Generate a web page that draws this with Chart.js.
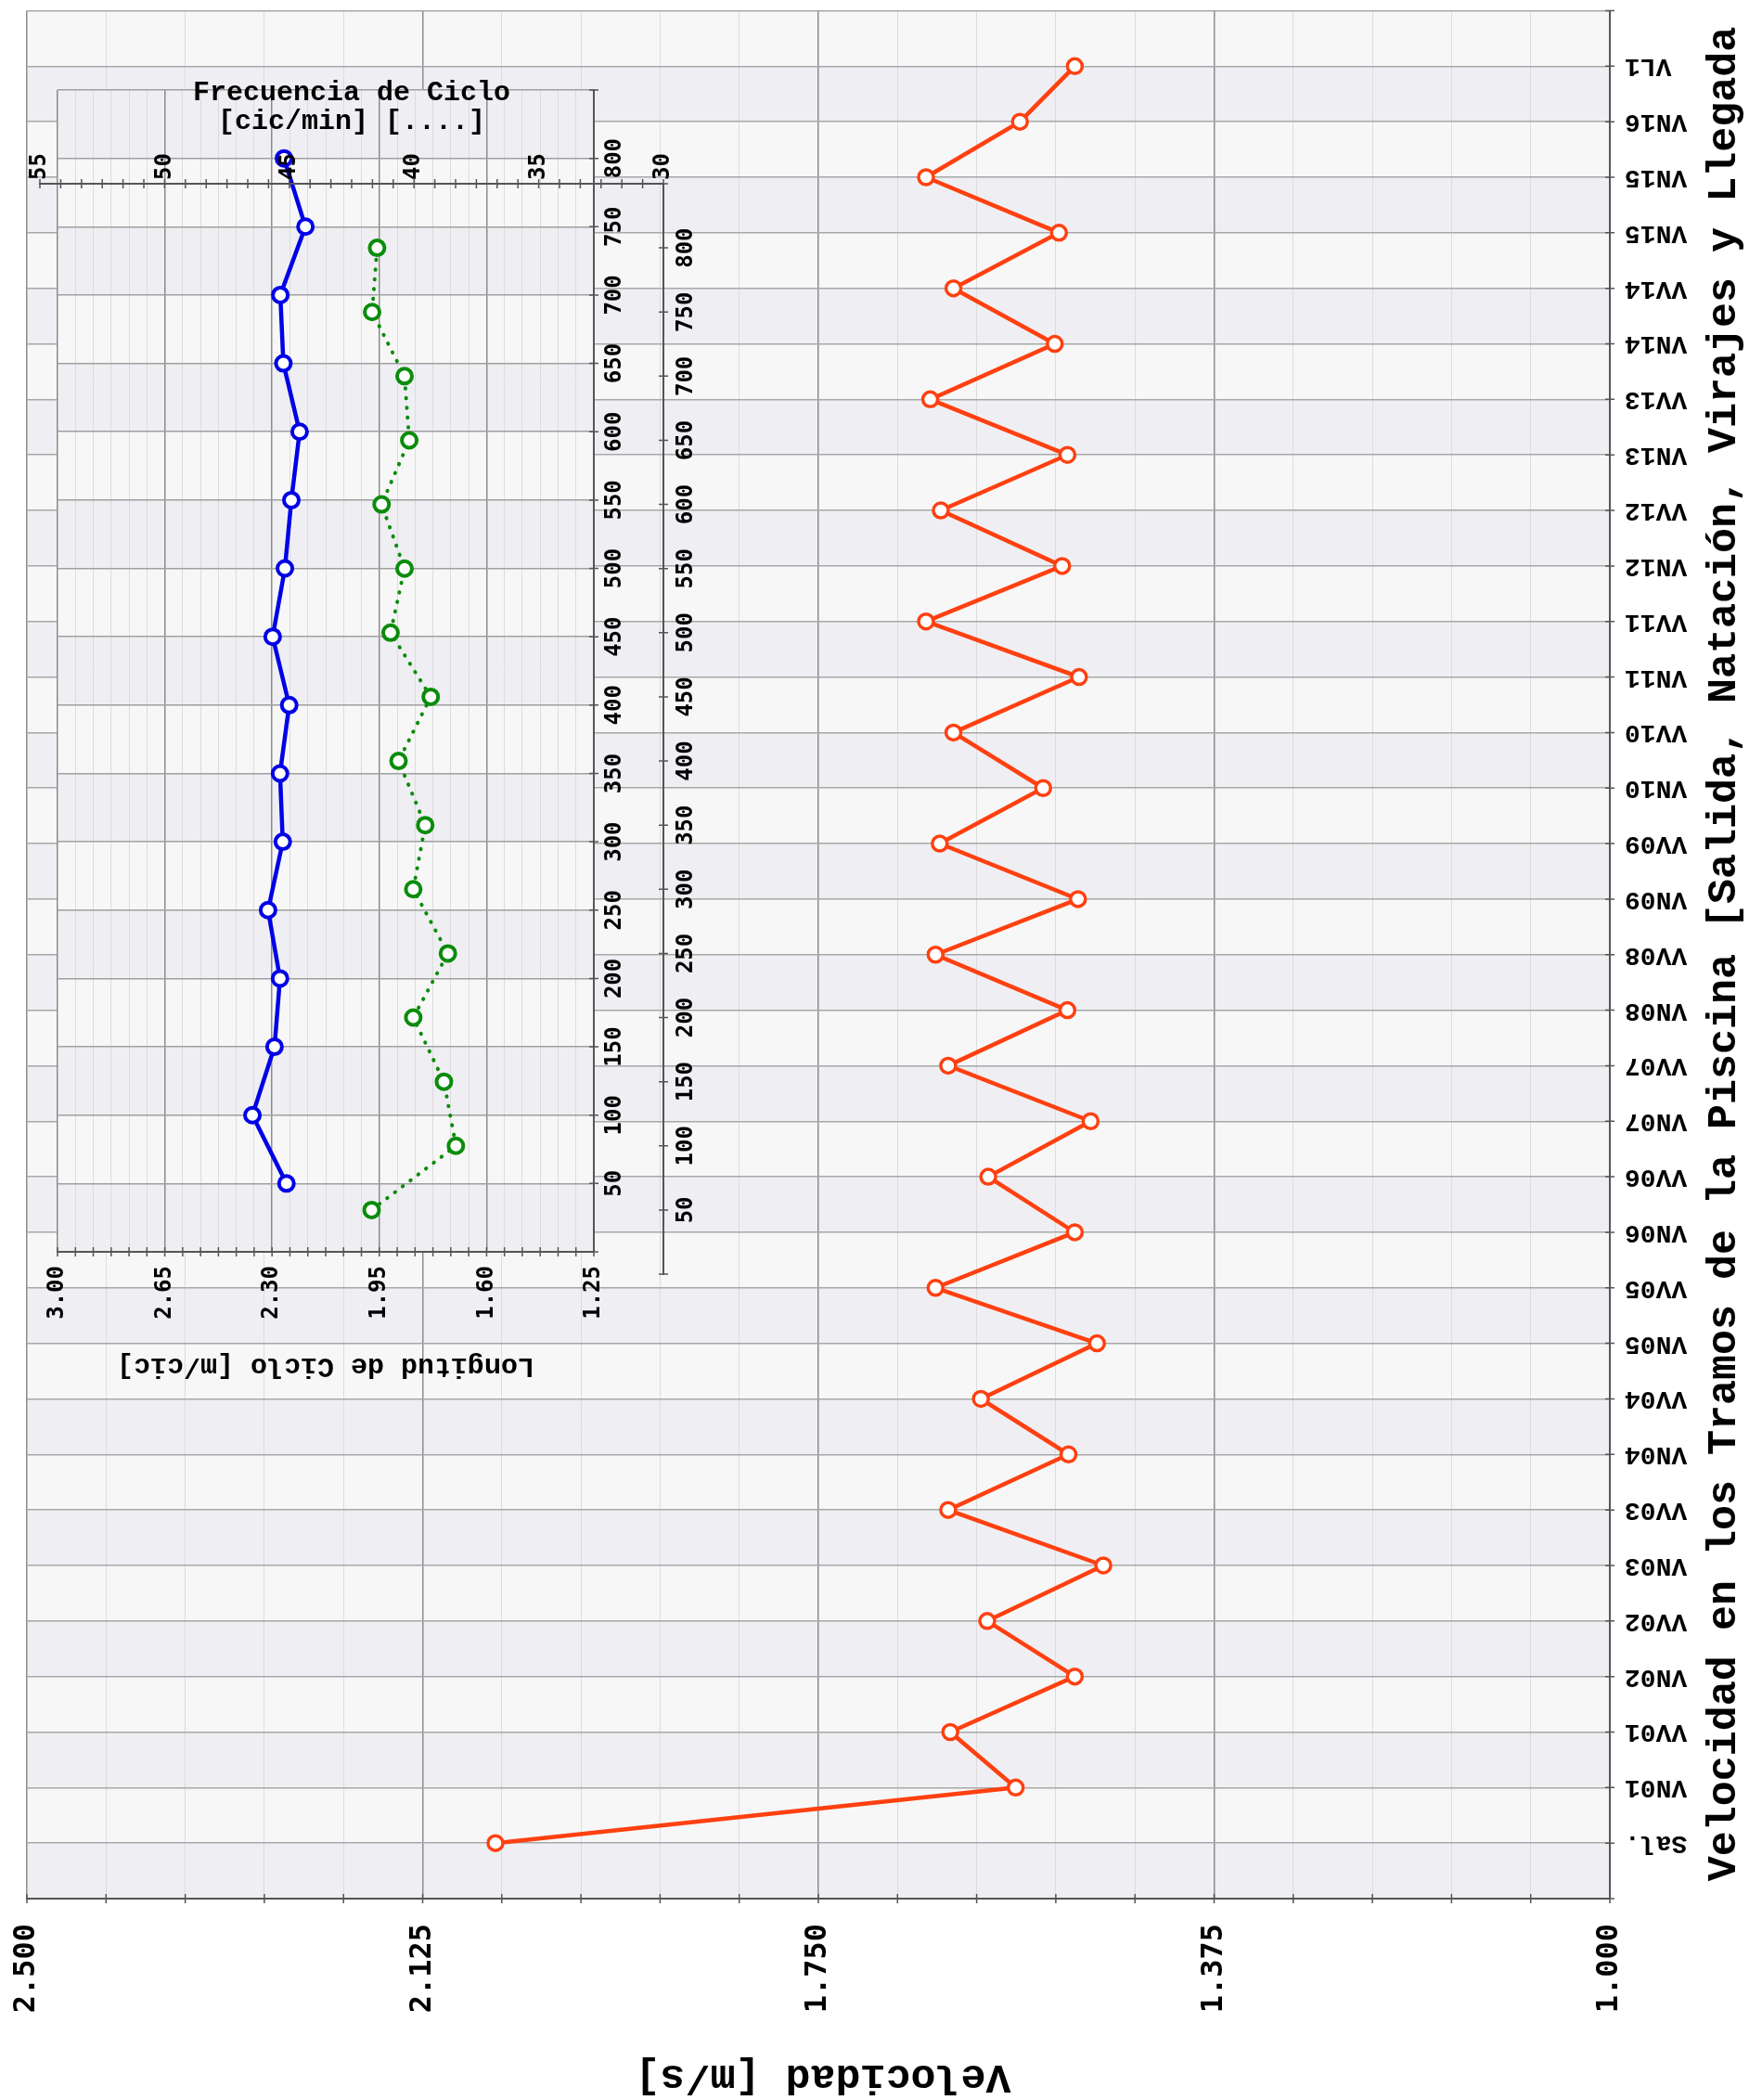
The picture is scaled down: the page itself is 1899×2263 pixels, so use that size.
<!DOCTYPE html>
<html>
<head>
<meta charset="utf-8">
<script src="https://cdn.jsdelivr.net/npm/chart.js@4.4.1/dist/chart.umd.min.js"></script>
<style>
    html, body { margin: 0; padding: 0; background: #fff; }
    #wrap { position: relative; width: 1899px; height: 2263px; }
    #wrap canvas { position: absolute; left: 0; top: 0; }
</style>
</head>
<body>
<div id="wrap">
    <canvas id="mainChart" width="1899" height="2263"></canvas>
    <canvas id="lengthChart" width="800" height="1550"></canvas>
    <canvas id="freqChart" width="800" height="1550"></canvas>
</div>
<script>
// tramos de la piscina (eje de categorias, de abajo hacia arriba)
const tramos = ['Sal.', 'VN01', 'VV01', 'VN02', 'VV02', 'VN03', 'VV03', 'VN04', 'VV04',
    'VN05', 'VV05', 'VN06', 'VV06', 'VN07', 'VV07', 'VN08', 'VV08', 'VN09', 'VV09',
    'VN10', 'VV10', 'VN11', 'VV11', 'VN12', 'VV12', 'VN13', 'VV13', 'VN14', 'VV14',
    'VN15', 'VN15', 'VN16', 'VL1'];
const velocidad = [2.056, 1.563, 1.625, 1.507, 1.590, 1.480, 1.627, 1.513, 1.596,
    1.486, 1.639, 1.507, 1.589, 1.492, 1.627, 1.514, 1.639, 1.504, 1.635,
    1.537, 1.622, 1.503, 1.648, 1.519, 1.634, 1.514, 1.644, 1.526, 1.622,
    1.522, 1.648, 1.559, 1.507];
const velocidadTicks = [2.500, 2.125, 1.750, 1.375, 1.000];

// grafico interior: distancia [m]
const distancias = [50, 100, 150, 200, 250, 300, 350, 400, 450, 500, 550, 600, 650, 700, 750, 800];
const longitudCiclo = [2.253, 2.364, 2.292, 2.274, 2.313, 2.265, 2.274, 2.244,
    2.298, 2.258, 2.237, 2.210, 2.263, 2.273, 2.191, 2.261];
const frecuenciaCiclo = [41.70, 38.32, 38.80, 40.03, 38.64, 40.03, 39.55, 40.62,
    39.33, 40.94, 40.38, 41.30, 40.19, 40.38, 41.68, 41.48];
const longitudTicks = [3.00, 2.65, 2.30, 1.95, 1.60, 1.25];
const frecuenciaTicks = [55, 50, 45, 40, 35, 30];
const distanciaTicks = distancias;

const titulo = 'Velocidad en los Tramos de la Piscina [Salida, Natación, Virajes y Llegada';
const tituloX = 'Velocidad [m/s]';

const LIGHT = '#f7f7f7';
const BLUISH = '#efeff3';
const MAJOR = '#8c8c8c';
const MINOR = '#dcdcdc';
const AXIS = '#555';

function steps(min, max, n) {
    const out = [];
    for (let i = 0; i <= n; i++) out.push({ value: min + (max - min) * i / n });
    return out;
}

// texto girado, se lee de abajo hacia arriba
function rotText(ctx, text, x, y, align) {
    ctx.save();
    ctx.translate(x, y);
    ctx.rotate(-Math.PI / 2);
    ctx.textAlign = align;
    ctx.textBaseline = 'middle';
    ctx.fillText(text, 0, 0);
    ctx.restore();
}

// texto cabeza abajo (girado 180)
function upsideText(ctx, text, x, y, align) {
    ctx.save();
    ctx.translate(x, y);
    ctx.rotate(Math.PI);
    ctx.textAlign = align;
    ctx.textBaseline = 'middle';
    ctx.fillText(text, 0, 0);
    ctx.restore();
}

function tickMarks(ctx, scale, horizontal, at, half) {
    ctx.save();
    ctx.strokeStyle = AXIS;
    ctx.lineWidth = 1.5;
    ctx.beginPath();
    scale.ticks.forEach(t => {
        const p = scale.getPixelForValue(t.value);
        if (horizontal) {
            ctx.moveTo(p, at - half);
            ctx.lineTo(p, at + half);
        } else {
            ctx.moveTo(at - half, p);
            ctx.lineTo(at + half, p);
        }
    });
    ctx.stroke();
    ctx.restore();
}

function bands(scaleId) {
    return {
        id: 'bands',
        beforeDraw(chart) {
            const { ctx, chartArea: a } = chart;
            const s = chart.scales[scaleId];
            ctx.save();
            for (let i = 0; i < s.ticks.length - 1; i++) {
                const y0 = s.getPixelForValue(s.ticks[i].value);
                const y1 = s.getPixelForValue(s.ticks[i + 1].value);
                ctx.fillStyle = i % 2 === 0 ? BLUISH : LIGHT;
                ctx.fillRect(a.left, Math.min(y0, y1), a.right - a.left, Math.abs(y1 - y0));
            }
            ctx.restore();
        }
    };
}

const baseOptions = {
    responsive: false,
    animation: false,
    events: [],
    plugins: { legend: { display: false }, tooltip: { enabled: false } }
};

// ---- grafico principal ----
new Chart(document.getElementById('mainChart'), {
    type: 'line',
    data: {
        datasets: [{
            data: velocidad.map((v, i) => ({ x: v, y: i })),
            borderColor: '#ff4010',
            borderWidth: 4.5,
            pointRadius: 8,
            pointBorderWidth: 3.5,
            pointBorderColor: '#ff4010',
            pointBackgroundColor: '#fff',
            tension: 0
        }]
    },
    options: {
        ...baseOptions,
        layout: { padding: { left: 29, right: 164, top: 7, bottom: 217 } },
        scales: {
            x: {
                type: 'linear', min: 1.0, max: 2.5, reverse: true, position: 'bottom',
                afterBuildTicks: s => { s.ticks = steps(1.0, 2.5, 20); },
                ticks: { display: false },
                grid: {
                    drawTicks: false,
                    color: c => c.index % 5 === 0 ? MAJOR : MINOR,
                    lineWidth: c => c.index % 5 === 0 ? 1.5 : 1
                },
                border: { color: AXIS, width: 2 }
            },
            y: {
                type: 'linear', min: -1, max: tramos.length, position: 'right',
                afterBuildTicks: s => { s.ticks = steps(-1, tramos.length, tramos.length + 1); },
                ticks: { display: false },
                grid: { drawTicks: false, color: '#a8a8a8', lineWidth: 1.5 },
                border: { color: AXIS, width: 2 }
            }
        }
    },
    plugins: [bands('y'), {
        id: 'mainText',
        afterDraw(chart) {
            const { ctx, chartArea: a } = chart;
            const x = chart.scales.x, y = chart.scales.y;
            tickMarks(ctx, x, true, a.bottom, 5);
            tickMarks(ctx, y, false, a.right, 5);
            ctx.fillStyle = '#000';
            ctx.font = 'bold 28px "Liberation Mono"';
            tramos.forEach((t, i) => upsideText(ctx, t, a.right + 16, y.getPixelForValue(i), 'right'));
            ctx.font = 'bold 32px "DejaVu Sans Mono"';
            velocidadTicks.forEach(v => rotText(ctx, v.toFixed(3), x.getPixelForValue(v), a.bottom + 27, 'right'));
            ctx.font = 'bold 45px "Liberation Mono"';
            rotText(ctx, titulo, 1859, 1028, 'center');
            upsideText(ctx, tituloX, 887, 2237, 'center');
        }
    }]
});

// ---- longitud de ciclo (azul) ----
new Chart(document.getElementById('lengthChart'), {
    type: 'line',
    data: {
        datasets: [{
            data: longitudCiclo.map((v, i) => ({ x: v, y: distancias[i] })),
            borderColor: '#0000e6',
            borderWidth: 4.5,
            pointRadius: 8,
            pointBorderWidth: 4,
            pointBorderColor: '#0000e6',
            pointBackgroundColor: '#fff',
            tension: 0
        }]
    },
    options: {
        ...baseOptions,
        layout: { padding: { left: 62, right: 160, top: 97, bottom: 201 } },
        scales: {
            x: {
                type: 'linear', min: 1.25, max: 3.0, reverse: true, position: 'bottom',
                afterBuildTicks: s => { s.ticks = steps(1.25, 3.0, 30); },
                ticks: { display: false },
                grid: {
                    drawTicks: false,
                    color: c => c.index % 6 === 0 ? MAJOR : MINOR,
                    lineWidth: c => c.index % 6 === 0 ? 1.5 : 1
                },
                border: { color: AXIS, width: 2 }
            },
            y: {
                type: 'linear', min: 0, max: 850, position: 'right',
                afterBuildTicks: s => { s.ticks = steps(0, 850, 17); },
                ticks: { display: false },
                grid: { drawTicks: false, color: '#a0a0a0', lineWidth: 1.5 },
                border: { color: AXIS, width: 2 }
            }
        }
    },
    plugins: [bands('y'), {
        id: 'lengthText',
        afterDraw(chart) {
            const { ctx, chartArea: a } = chart;
            const x = chart.scales.x, y = chart.scales.y;
            tickMarks(ctx, x, true, a.bottom, 5);
            tickMarks(ctx, y, false, a.right, 5);
            ctx.fillStyle = '#000';
            ctx.font = 'bold 24px "DejaVu Sans Mono"';
            longitudTicks.forEach(v => rotText(ctx, v.toFixed(2), x.getPixelForValue(v), a.bottom + 15, 'right'));
            distanciaTicks.forEach(d => rotText(ctx, String(d), a.right + 23, y.getPixelForValue(d), 'center'));
            ctx.font = 'bold 30px "Liberation Mono"';
            upsideText(ctx, 'Longitud de Ciclo [m/cic]', (a.left + a.right) / 2, 1472, 'center');
        }
    }]
});

// ---- frecuencia de ciclo (verde, punteado) ----
new Chart(document.getElementById('freqChart'), {
    type: 'line',
    data: {
        datasets: [{
            data: frecuenciaCiclo.map((v, i) => ({ x: v, y: distancias[i] })),
            borderColor: '#0a8c0a',
            borderWidth: 4,
            borderDash: [0.5, 10],
            borderCapStyle: 'round',
            pointRadius: 8,
            pointBorderWidth: 4,
            pointBorderColor: '#0a8c0a',
            pointBackgroundColor: '#fff',
            tension: 0
        }]
    },
    options: {
        ...baseOptions,
        layout: { padding: { left: 43, right: 85, top: 198, bottom: 177 } },
        scales: {
            x: {
                type: 'linear', min: 30, max: 55, reverse: true, position: 'top',
                afterBuildTicks: s => { s.ticks = steps(30, 55, 30); },
                ticks: { display: false },
                grid: { drawTicks: false, drawOnChartArea: false },
                border: { color: AXIS, width: 2 }
            },
            y: {
                type: 'linear', min: 0, max: 850, position: 'right',
                afterBuildTicks: s => { s.ticks = steps(0, 850, 17); },
                ticks: { display: false },
                grid: { drawTicks: false, drawOnChartArea: false },
                border: { color: AXIS, width: 2 }
            }
        }
    },
    plugins: [{
        id: 'freqText',
        afterDraw(chart) {
            const { ctx, chartArea: a } = chart;
            const x = chart.scales.x, y = chart.scales.y;
            tickMarks(ctx, x, true, a.top, 5);
            tickMarks(ctx, y, false, a.right, 5);
            ctx.fillStyle = '#000';
            ctx.font = 'bold 24px "DejaVu Sans Mono"';
            frecuenciaTicks.forEach(v => rotText(ctx, String(v), x.getPixelForValue(v), a.top - 4, 'left'));
            distanciaTicks.forEach(d => rotText(ctx, String(d), a.right + 25, y.getPixelForValue(d), 'center'));
            ctx.font = 'bold 30px "Liberation Mono"';
            ctx.textAlign = 'center';
            ctx.textBaseline = 'middle';
            const cx = (a.left + a.right) / 2;
            ctx.fillText('Frecuencia de Ciclo', cx, 100);
            ctx.fillText('[cic/min] [....]', cx, 131);
        }
    }]
});
</script>
</body>
</html>
